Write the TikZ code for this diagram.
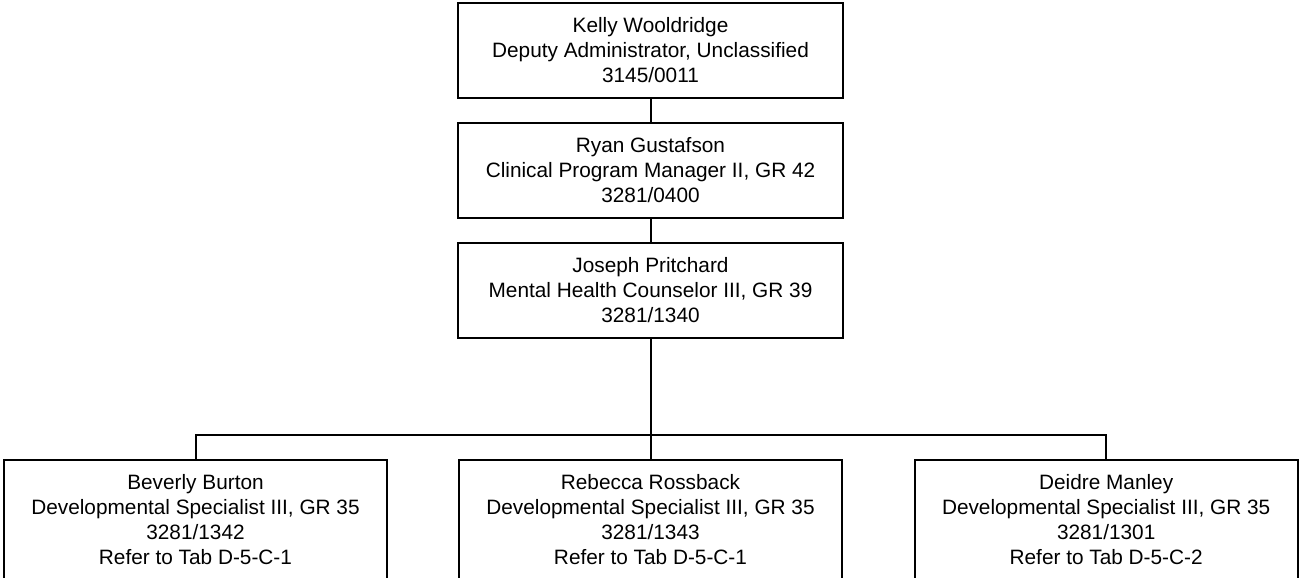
\documentclass[tikz,border=0pt]{standalone}
\usepackage{fontspec}
\setmainfont{Liberation Sans}
\usetikzlibrary{positioning}

\begin{document}
\begin{tikzpicture}[
    x=0.75pt, y=-0.75pt,
    font=\fontsize{15.6}{18.75}\selectfont,
    posbox/.style={
        rectangle, draw=black, fill=white, line width=1.5pt,
        minimum width=288.75pt, minimum height=71.25pt,
        align=center, inner sep=2pt
    },
    staffbox/.style={
        posbox, minimum width=287.25pt, minimum height=90pt
    },
    link/.style={draw=black, line width=1.5pt},
]

\useasboundingbox (0,0) rectangle (1299,578);

% ============================================================
% Chain of command
% ============================================================

\node[posbox] (kelly) at (650.5,50.5) {
    Kelly Wooldridge\\
    Deputy Administrator, Unclassified\\
    3145/0011
};

\node[posbox, below=17.25pt of kelly] (ryan) {
    Ryan Gustafson\\
    Clinical Program Manager II, GR 42\\
    3281/0400
};

\node[posbox, below=17.25pt of ryan] (joseph) {
    Joseph Pritchard\\
    Mental Health Counselor III, GR 39\\
    3281/1340
};

% ============================================================
% Staff row
% ============================================================

\node[staffbox, anchor=north] (rebecca) at (650.5,459) {
    Rebecca Rossback\\
    Developmental Specialist III, GR 35\\
    3281/1343\\
    Refer to Tab D-5-C-1
};

\node[staffbox, left=52.5pt of rebecca] (beverly) {
    Beverly Burton\\
    Developmental Specialist III, GR 35\\
    3281/1342\\
    Refer to Tab D-5-C-1
};

\node[staffbox, right=53pt of rebecca] (deidre) {
    Deidre Manley\\
    Developmental Specialist III, GR 35\\
    3281/1301\\
    Refer to Tab D-5-C-2
};

% Connectors
\coordinate (bus) at (650.5,435);

\draw[link] (kelly.south) -- (ryan.north);
\draw[link] (ryan.south) -- (joseph.north);
\draw[link] (joseph.south) -- (rebecca.north);
\draw[link] (beverly.north) -- (beverly.north |- bus)
    -- (deidre.north |- bus) -- (deidre.north);

\end{tikzpicture}
\end{document}
